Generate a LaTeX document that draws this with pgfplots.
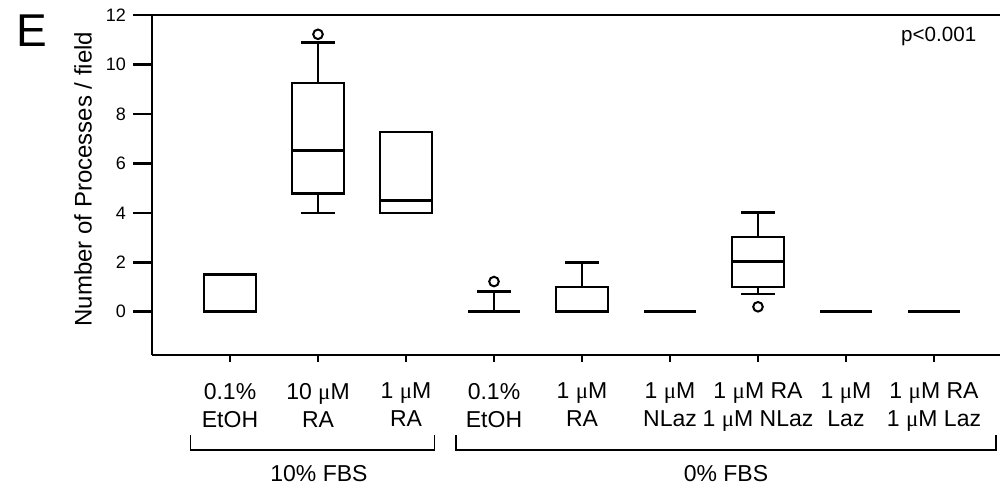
\documentclass[border=0pt]{standalone}
\usepackage{fontspec}
\setmainfont{Liberation Sans}
\newfontfamily\symfont{Liberation Serif}
\usepackage{pgfplots}
\usepgfplotslibrary{statistics}
\pgfplotsset{compat=1.18}
\newcommand{\uM}{{\symfont μ}M}

\begin{document}
\begin{tikzpicture}
\begin{axis}[
    scale only axis,
    width=424pt, height=170pt,
    xmin=0.1136, xmax=9.75,
    ymin=-1.75, ymax=12,
    clip=false,
    axis x line=bottom, axis y line=left,
    axis line style={-, line width=1.3pt},
    tick align=outside,
    major tick length=9.5pt,
    every tick/.style={black, line width=1.3pt},
    xtick style={draw=none},
    ytick={0,2,...,12},
    xtick={1,...,9},
    xticklabels={{0.1\%\\EtOH},{10 \uM\\RA},{1 \uM\\RA},{0.1\%\\EtOH},{1 \uM\\RA},
                 {1 \uM\\NLaz},{1 \uM{} RA\\1 \uM{} NLaz},{1 \uM\\Laz},{1 \uM{} RA\\1 \uM{} Laz}},
    xticklabel style={align=center, font=\fontsize{11.5}{14}\selectfont, yshift=-1pt},
    yticklabel style={font=\fontsize{9}{10}\selectfont},
    /pgf/number format/assume math mode=true,
    ylabel={Number of Processes / field},
    ylabel style={at={(rel axis cs:-0.0814,0.5176)}, anchor=center, font=\fontsize{12}{14}\selectfont},
    boxplot/draw direction=y,
    boxplot/box extend=0.59,
    boxplot/whisker extend=0.39,
    every axis plot/.append style={black, line width=1.3pt, mark=o, mark size=2.4pt,
        mark options={line width=1pt, fill=white}},
]
% 10% FBS
\addplot[boxplot prepared={draw position=1, lower whisker=0, lower quartile=0,
    median=0, upper quartile=1.5, upper whisker=1.5}] coordinates {};
\addplot[boxplot prepared={draw position=2, lower whisker=4, lower quartile=4.78,
    median=6.52, upper quartile=9.25, upper whisker=10.9}] table[row sep=\\, y index=0] {11.22\\};
\addplot[boxplot prepared={draw position=3, lower whisker=4, lower quartile=4,
    median=4.5, upper quartile=7.27, upper whisker=7.27}] coordinates {};
% 0% FBS
\addplot[boxplot prepared={draw position=4, lower whisker=0, lower quartile=0,
    median=0, upper quartile=0, upper whisker=0.82}] table[row sep=\\, y index=0] {1.22\\};
\addplot[boxplot prepared={draw position=5, lower whisker=0, lower quartile=0,
    median=0, upper quartile=1, upper whisker=2}] coordinates {};
\addplot[boxplot prepared={draw position=6, lower whisker=0, lower quartile=0,
    median=0, upper quartile=0, upper whisker=0}] coordinates {};
\addplot[boxplot prepared={draw position=7, lower whisker=0.72, lower quartile=1,
    median=2.02, upper quartile=3.02, upper whisker=4.02}] table[row sep=\\, y index=0] {0.2\\};
\addplot[boxplot prepared={draw position=8, lower whisker=0, lower quartile=0,
    median=0, upper quartile=0, upper whisker=0}] coordinates {};
\addplot[boxplot prepared={draw position=9, lower whisker=0, lower quartile=0,
    median=0, upper quartile=0, upper whisker=0}] coordinates {};

% short x ticks (about 3.5pt below the axis line)
\pgfplotsinvokeforeach{1,...,9}{
  \draw[line width=1.3pt] (axis cs:#1,-1.75) -- (axis cs:#1,-2.03);
}
% top frame line
\draw[line width=1.3pt] (rel axis cs:0,1) -- (rel axis cs:1,1);
% group brackets
\draw[line width=0.7pt] (rel axis cs:0.0456,-0.2353) |- (rel axis cs:0.3329,-0.2794) -- (rel axis cs:0.3329,-0.2353);
\draw[line width=0.7pt] (rel axis cs:0.3585,-0.2353) |- (rel axis cs:0.9953,-0.2794) -- (rel axis cs:0.9953,-0.2353);
\node[anchor=base, font=\fontsize{11.5}{14}\selectfont, inner sep=0pt] at (rel axis cs:0.1969,-0.3726) {10\% FBS};
\node[anchor=base, font=\fontsize{11.5}{14}\selectfont, inner sep=0pt] at (rel axis cs:0.6769,-0.3726) {0\% FBS};
\node[anchor=base east, font=\fontsize{10.3}{12}\selectfont, inner sep=0pt] at (rel axis cs:0.9725,0.9215) {p<0.001};
\node[anchor=base west, font=\fontsize{23}{26}\selectfont, inner sep=0pt] at (rel axis cs:-0.160,0.9068) {E};

\coordinate (bbsw) at (rel axis cs:-0.17925,-0.39118);
\coordinate (bbne) at (rel axis cs:1,1.04412);
\end{axis}
\pgfresetboundingbox
\path[use as bounding box] (bbsw) rectangle (bbne);
\end{tikzpicture}
\end{document}
